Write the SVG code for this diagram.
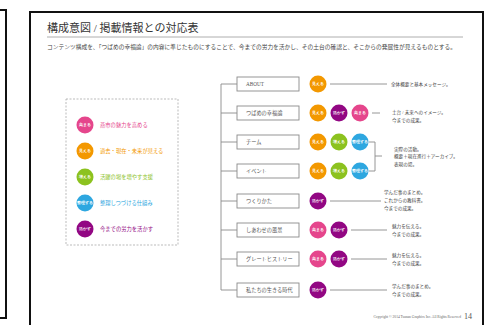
<svg xmlns="http://www.w3.org/2000/svg" width="494" height="325" viewBox="0 0 494 325">
<style>
.frame{fill:none;stroke:#111;stroke-width:2}
.cjk{font-family:"Liberation Serif","Noto Sans CJK JP",serif}
.title{font-size:11px;fill:#333}
.sub{font-size:5.6px;fill:#444}
.lg{font-size:5.3px}
.box rect{fill:#fff;stroke:#8a8a8a;stroke-width:0.9}
.box text{font-size:5.2px;fill:#555}
.c text{font-size:3.6px;fill:#fff;text-anchor:middle;dominant-baseline:central;font-weight:bold}
.note{font-size:4.6px;fill:#444}
.conn{fill:none;stroke:#8a8a8a;stroke-width:0.9}
.pk{fill:#e5468c}.or{fill:#f39800}.gr{fill:#8cc21f}.bl{fill:#2ea7e0}.pu{fill:#920783}
</style>
<rect width="494" height="325" fill="#fff"/>
<!-- left page edge -->
<polyline points="0,10 6,10 6,318 0,318" class="frame"/>
<!-- main page frame -->
<rect x="30" y="12" width="453" height="320" class="frame"/>
<text x="47" y="32" class="cjk title">構成意図 / 掲載情報との対応表</text>
<line x1="47" y1="37" x2="463" y2="37" stroke="#999" stroke-width="0.8"/>
<text x="47" y="49" class="cjk sub" textLength="409" lengthAdjust="spacingAndGlyphs">コンテンツ構成を、「つばめの幸福論」の内容に準じたものにすることで、今までの労力を活かし、その土台の確認と、そこからの発展性が見えるものとする。</text>

<!-- legend -->
<g id="legend">
<rect x="66" y="99" width="112" height="146" fill="none" stroke="#aaa" stroke-width="0.8" stroke-dasharray="2,1.5"/>
<g class="c"><circle cx="85" cy="125" r="8.5" class="pk"/><text x="85" y="125">高まる</text></g>
<text x="100" y="127" class="cjk lg" fill="#e5468c">燕市の魅力を高める</text>
<g class="c"><circle cx="85" cy="151" r="8.5" class="or"/><text x="85" y="151">見える</text></g>
<text x="100" y="153" class="cjk lg" fill="#f39800">過去・現在・未来が見える</text>
<g class="c"><circle cx="85" cy="177" r="8.5" class="gr"/><text x="85" y="177">増える</text></g>
<text x="100" y="179" class="cjk lg" fill="#8cc21f">活躍の場を増やす支援</text>
<g class="c"><circle cx="85" cy="203" r="8.5" class="bl"/><text x="85" y="203">整理する</text></g>
<text x="100" y="205" class="cjk lg" fill="#2ea7e0">整理しつづける仕組み</text>
<g class="c"><circle cx="85" cy="229" r="8.5" class="pu"/><text x="85" y="229">活かす</text></g>
<text x="100" y="231" class="cjk lg" fill="#920783">今までの労力を活かす</text>
</g>

<!-- connectors -->
<g id="connectors" class="conn">
<line x1="221" y1="84" x2="221" y2="290"/>
<line x1="221" y1="84" x2="237" y2="84"/>
<line x1="221" y1="113" x2="237" y2="113"/>
<line x1="221" y1="142" x2="237" y2="142"/>
<line x1="221" y1="171" x2="237" y2="171"/>
<line x1="221" y1="201" x2="237" y2="201"/>
<line x1="221" y1="230" x2="237" y2="230"/>
<line x1="221" y1="259" x2="237" y2="259"/>
<line x1="221" y1="290" x2="237" y2="290"/>
<line x1="330" y1="84" x2="387" y2="84"/>
<line x1="372" y1="113" x2="380" y2="113"/>
<polyline points="369,142 375,142 375,171 369,171"/>
<line x1="375" y1="156" x2="382" y2="156"/>
<line x1="330" y1="201" x2="381" y2="201"/>
<line x1="351" y1="230" x2="387" y2="230"/>
<line x1="351" y1="259" x2="387" y2="259"/>
<line x1="330" y1="290" x2="387" y2="290"/>
</g>

<!-- nodes -->
<g id="n-about"><g class="box"><rect x="237" y="77" width="62" height="14"/><text x="246" y="86">ABOUT</text></g>
<g class="c"><circle cx="318" cy="84" r="8.5" class="or"/><text x="318" y="84">見える</text></g>
<text x="391" y="86" class="cjk note">全体概要と基本メッセージ。</text></g>

<g id="n-koufuku"><g class="box"><rect x="237" y="106" width="62" height="14"/><text x="246" y="115" class="cjk">つばめの幸福論</text></g>
<g class="c"><circle cx="318" cy="113" r="8.5" class="or"/><text x="318" y="113">見える</text></g>
<g class="c"><circle cx="339" cy="113" r="8.5" class="pu"/><text x="339" y="113">活かす</text></g>
<g class="c"><circle cx="360" cy="113" r="8.5" class="pk"/><text x="360" y="113">高まる</text></g>
<text x="392" y="114" class="cjk note">土台 / 未来へのイメージ。</text>
<text x="392" y="122" class="cjk note">今までの成果。</text></g>

<g id="n-team"><g class="box"><rect x="237" y="135" width="62" height="14"/><text x="246" y="144" class="cjk">チーム</text></g>
<g class="c"><circle cx="318" cy="142" r="8.5" class="or"/><text x="318" y="142">見える</text></g>
<g class="c"><circle cx="339" cy="142" r="8.5" class="gr"/><text x="339" y="142">増える</text></g>
<g class="c"><circle cx="360" cy="142" r="8.5" class="bl"/><text x="360" y="142">整理する</text></g></g>

<g id="n-event"><g class="box"><rect x="237" y="164" width="62" height="14"/><text x="246" y="173" class="cjk">イベント</text></g>
<g class="c"><circle cx="318" cy="171" r="8.5" class="or"/><text x="318" y="171">見える</text></g>
<g class="c"><circle cx="339" cy="171" r="8.5" class="gr"/><text x="339" y="171">増える</text></g>
<g class="c"><circle cx="360" cy="171" r="8.5" class="bl"/><text x="360" y="171">整理する</text></g>
<text x="394" y="151" class="cjk note">実際の活動。</text>
<text x="394" y="158" class="cjk note">概要＋現在進行＋アーカイブ。</text>
<text x="394" y="165.5" class="cjk note">表現の場。</text></g>

<g id="n-tsukurikata"><g class="box"><rect x="237" y="194" width="62" height="14"/><text x="246" y="203" class="cjk">つくりかた</text></g>
<g class="c"><circle cx="318" cy="201" r="8.5" class="pu"/><text x="318" y="201">活かす</text></g>
<text x="384" y="194" class="cjk note">学んだ事のまとめ。</text>
<text x="384" y="202" class="cjk note">これからの教科書。</text>
<text x="384" y="210" class="cjk note">今までの成果。</text></g>

<g id="n-shiawase"><g class="box"><rect x="237" y="223" width="62" height="14"/><text x="246" y="232" class="cjk">しあわせの風景</text></g>
<g class="c"><circle cx="318" cy="230" r="8.5" class="pk"/><text x="318" y="230">高まる</text></g>
<g class="c"><circle cx="339" cy="230" r="8.5" class="pu"/><text x="339" y="230">活かす</text></g>
<text x="392" y="228" class="cjk note">魅力を伝える。</text>
<text x="392" y="236" class="cjk note">今までの成果。</text></g>

<g id="n-great"><g class="box"><rect x="237" y="252" width="62" height="14"/><text x="246" y="261" class="cjk">グレートヒストリー</text></g>
<g class="c"><circle cx="318" cy="259" r="8.5" class="pk"/><text x="318" y="259">高まる</text></g>
<g class="c"><circle cx="339" cy="259" r="8.5" class="pu"/><text x="339" y="259">活かす</text></g>
<text x="392" y="257" class="cjk note">魅力を伝える。</text>
<text x="392" y="265" class="cjk note">今までの成果。</text></g>

<g id="n-jidai"><g class="box"><rect x="237" y="283" width="62" height="14"/><text x="246" y="292" class="cjk">私たちの生きる時代</text></g>
<g class="c"><circle cx="318" cy="290" r="8.5" class="pu"/><text x="318" y="290">活かす</text></g>
<text x="392" y="288" class="cjk note">学んだ事のまとめ。</text>
<text x="392" y="296" class="cjk note">今までの成果。</text></g>

<text x="461" y="318" font-family="Liberation Serif, serif" font-size="3.6" fill="#666" text-anchor="end">Copyright © 2014 Tsunan Graphics Inc. All Rights Reserved</text>
<text x="464" y="319" font-family="Liberation Serif, serif" font-size="8" fill="#555">14</text>
</svg>
